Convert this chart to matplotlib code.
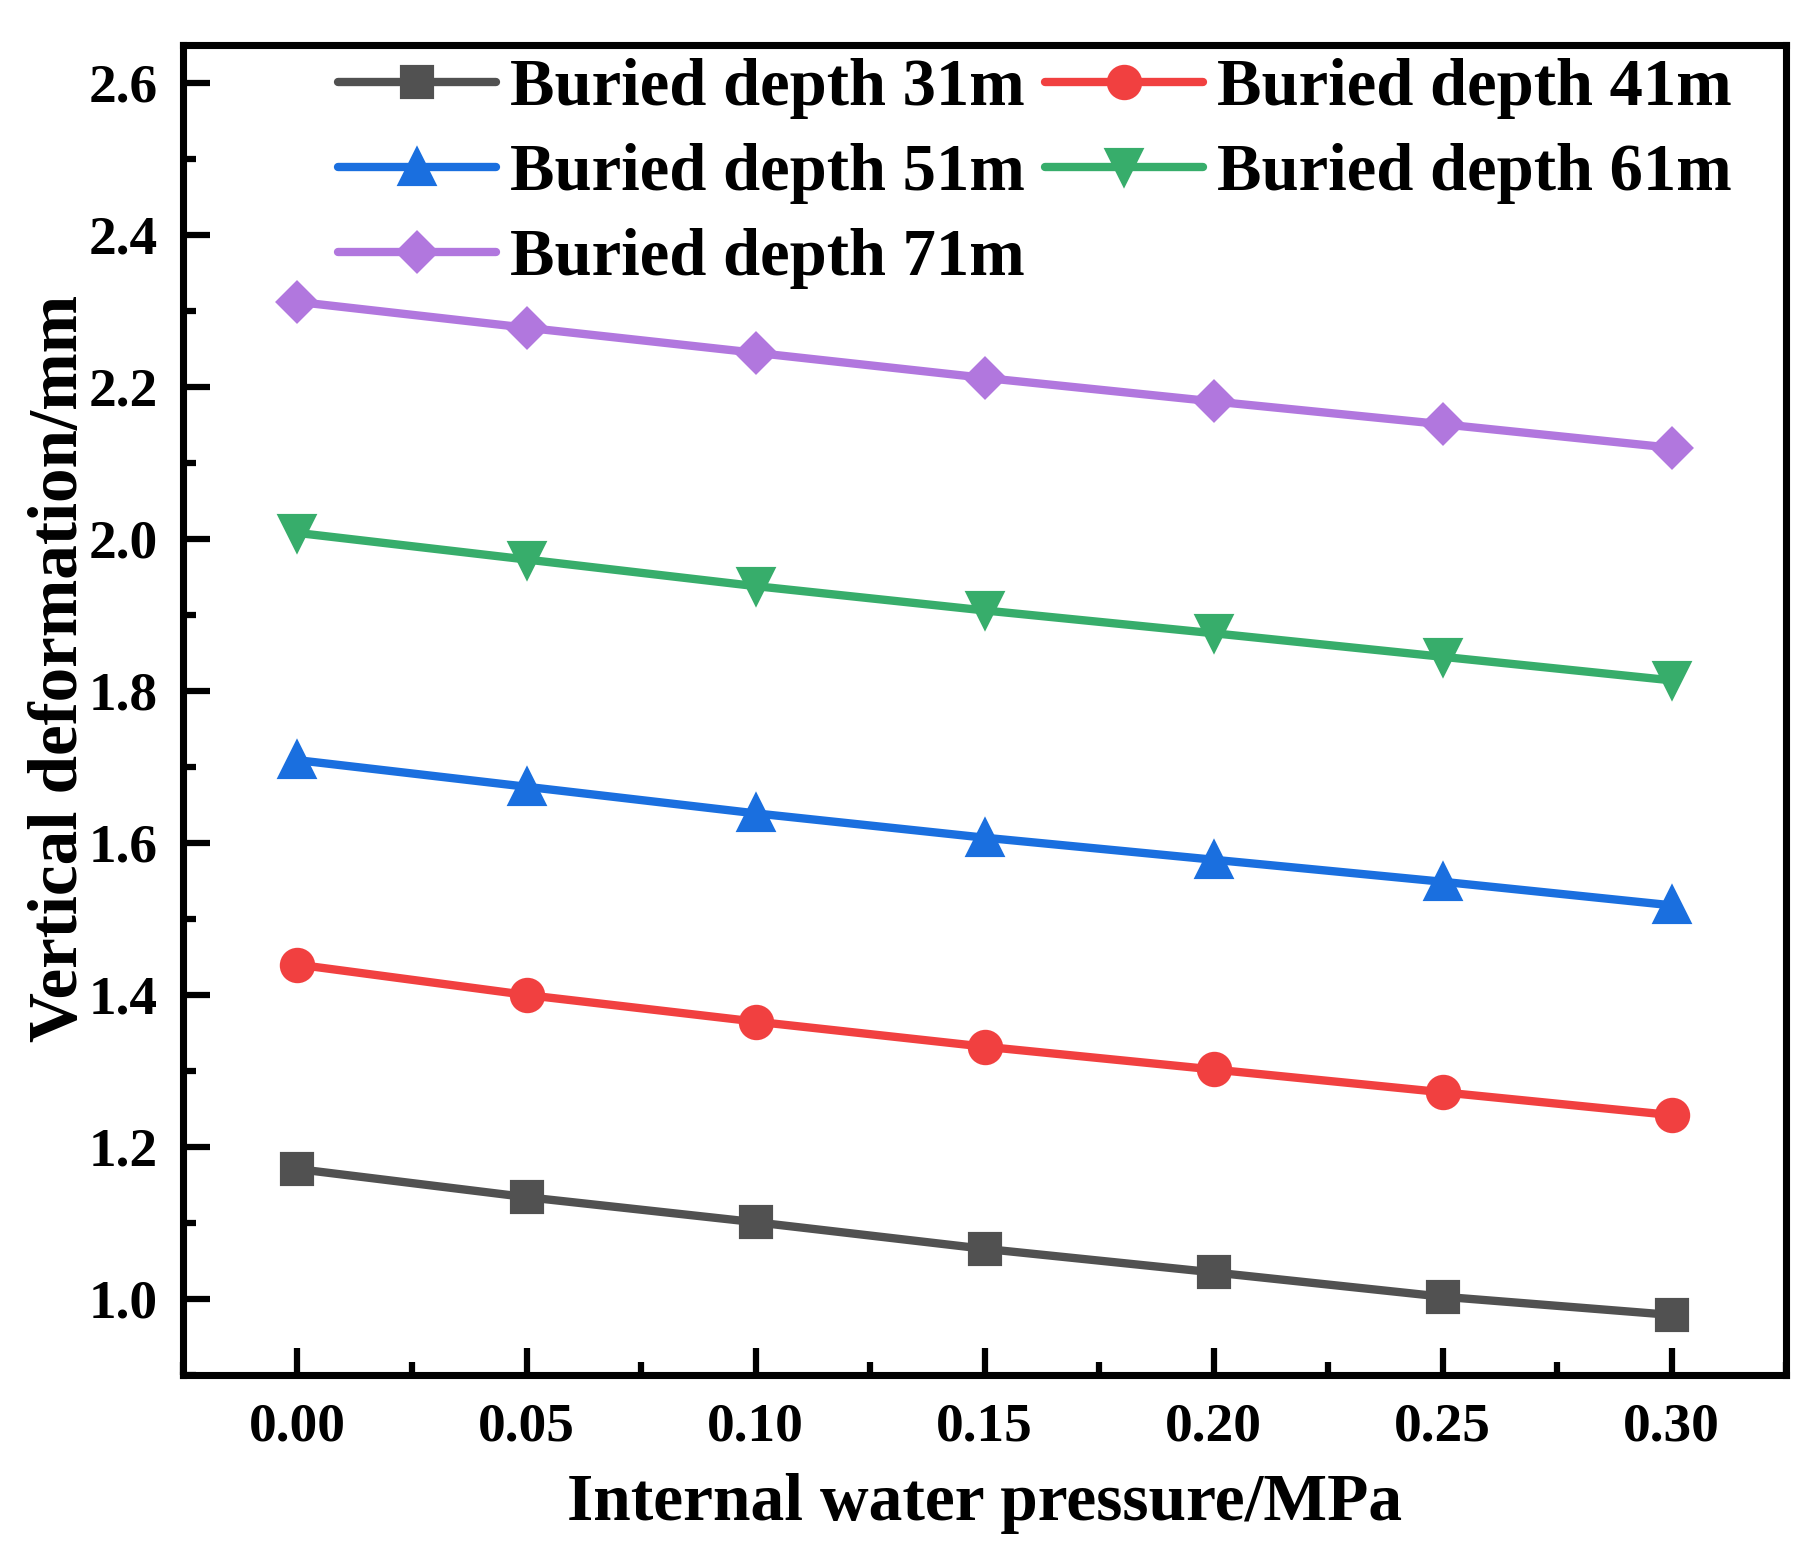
import matplotlib
matplotlib.use("Agg")
import matplotlib.pyplot as plt
from matplotlib.ticker import MultipleLocator

pressure = [0.00, 0.05, 0.10, 0.15, 0.20, 0.25, 0.30]
depth_31 = [1.171, 1.134, 1.101, 1.066, 1.035, 1.003, 0.979]
depth_41 = [1.440, 1.400, 1.365, 1.332, 1.302, 1.272, 1.242]
depth_51 = [1.709, 1.674, 1.639, 1.607, 1.578, 1.549, 1.518]
depth_61 = [2.008, 1.973, 1.938, 1.906, 1.876, 1.845, 1.814]
depth_71 = [2.312, 2.278, 2.245, 2.212, 2.181, 2.151, 2.120]
labels = ["Buried depth 31m", "Buried depth 41m", "Buried depth 51m",
          "Buried depth 61m", "Buried depth 71m"]
colors = ["#515151", "#F14040", "#1A6FDF", "#37AD6B", "#B177DE"]
markers = ["s", "o", "^", "v", "D"]
msizes = [7, 7.5, 8, 8, 6.5]

plt.rcParams['font.family'] = ['Liberation Serif', 'DejaVu Serif']
plt.rcParams['font.weight'] = 'bold'

fig = plt.figure(figsize=(1819/300, 1557/300), dpi=300)
ax = fig.add_axes([0.1006, 0.1169, 0.8813, 0.8542])

series = [depth_31, depth_41, depth_51, depth_61, depth_71]
handles = []
for ys, lab, c, m, ms in zip(series, labels, colors, markers, msizes):
    h, = ax.plot(pressure, ys, color=c, marker=m, markersize=ms, lw=2.0,
                 label=lab, solid_capstyle='round')
    handles.append(h)

ax.set_xlim(-0.025, 0.325)
ax.set_ylim(0.9, 2.65)
ax.xaxis.set_major_locator(MultipleLocator(0.05))
ax.xaxis.set_minor_locator(MultipleLocator(0.025))
ax.yaxis.set_major_locator(MultipleLocator(0.2))
ax.yaxis.set_minor_locator(MultipleLocator(0.1))
ax.xaxis.set_major_formatter(plt.FormatStrFormatter('%.2f'))
ax.yaxis.set_major_formatter(plt.FormatStrFormatter('%.1f'))

ax.tick_params(which='both', direction='in', top=False, right=False,
               labelsize=13.3, width=1.5)
ax.tick_params(which='major', length=6.5)
ax.tick_params(which='minor', length=3.2)
ax.tick_params(axis='x', which='major', pad=6.5)
ax.tick_params(axis='y', which='major', pad=6.0)
for lab in ax.get_xticklabels() + ax.get_yticklabels():
    lab.set_fontweight('bold')
for s in ax.spines.values():
    s.set_linewidth(1.7)

ax.set_xlabel("Internal water pressure/MPa", fontsize=16.2, fontweight='bold', labelpad=5)
ax.set_ylabel("Vertical deformation/mm", fontsize=16.6, fontweight='bold')
ax.yaxis.set_label_coords(-0.057, 0.531)

order = [0, 2, 4, 1, 3]
leg = ax.legend([handles[i] for i in order], [labels[i] for i in order],
                ncol=2, loc='upper left', bbox_to_anchor=(0.097, 0.99),
                frameon=False, fontsize=16, handlelength=2.36,
                handletextpad=0.22, columnspacing=0.3, labelspacing=0.36,
                borderpad=0.0, borderaxespad=0.0)
for t in leg.get_texts():
    t.set_fontweight('bold')

fig.savefig("out.png", dpi=300)
